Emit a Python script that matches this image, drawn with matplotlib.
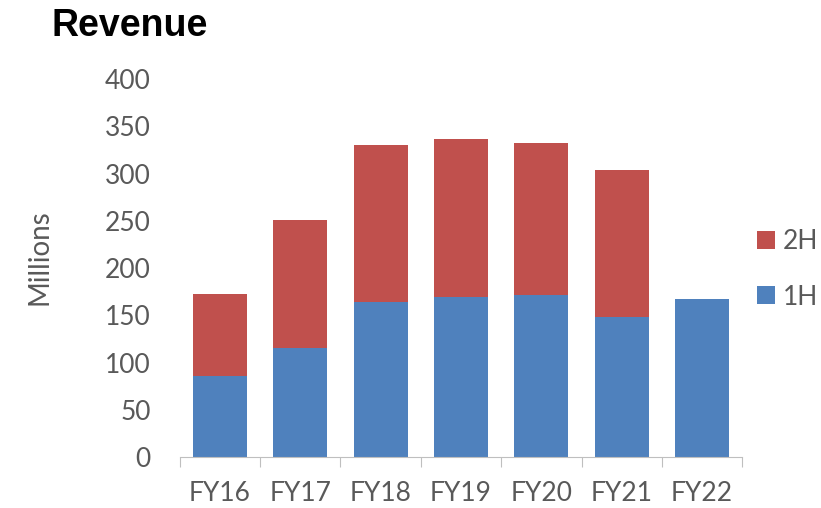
import matplotlib.pyplot as plt
import numpy as np

# revenue per half year, millions
years = ['FY16', 'FY17', 'FY18', 'FY19', 'FY20', 'FY21', 'FY22']
h1 = [85.7, 115.0, 164.3, 169.0, 171.4, 148.5, 167.2]
h2 = [86.8, 135.8, 165.9, 167.2, 160.9, 154.9, 0]

blue = '#4f81bd'
red = '#c0504d'
grey = '#595959'

fig = plt.figure(figsize=(8.21, 5.08), dpi=100)
ax = fig.add_axes([0.219, 0.100, 0.685, 0.7445])

x = np.arange(len(years))
b1 = ax.bar(x, h1, width=0.67, color=blue, label='1H')
b2 = ax.bar(x, h2, width=0.67, bottom=h1, color=red, label='2H')

ax.set_xlim(-0.5, len(years) - 0.5)
ax.set_ylim(0, 400)
ax.set_yticks(range(0, 401, 50))

for s in ['top', 'right', 'left']:
    ax.spines[s].set_visible(False)
ax.spines['bottom'].set_color('#bfbfbf')

# category ticks sit between bars like Excel
ax.set_xticks(np.arange(-0.5, len(years)), minor=False)
ax.set_xticklabels([])
ax.set_xticks(x, minor=True)
ax.set_xticklabels(years, minor=True, fontsize=19, color=grey, family='Lato')
ax.tick_params(axis='x', which='major', length=7, color='#bfbfbf', direction='out')
ax.tick_params(axis='x', which='minor', length=0, pad=17)
ax.tick_params(axis='y', length=0, labelsize=19, labelcolor=grey, pad=21)
for t in ax.get_yticklabels():
    t.set_family('Lato')

fig.text(39 / 821, 1 - 257 / 508, 'Millions', fontsize=20, color=grey, family='Lato',
         rotation=90, ha='center', va='center')

fig.text(0.063, 0.948, 'Revenue', fontsize=27, fontweight='bold',
         family='Liberation Sans', va='center', ha='left')

leg = fig.legend([b2, b1], ['2H', '1H'], loc='center left', bbox_to_anchor=(0.922, 0.4695),
                 frameon=False, labelcolor=grey, handlelength=0.68,
                 handleheight=0.68, handletextpad=0.3, labelspacing=1.15,
                 borderpad=0, borderaxespad=0,
                 prop={'family': 'Lato', 'size': 19})

fig.savefig('out.png', dpi=100)
